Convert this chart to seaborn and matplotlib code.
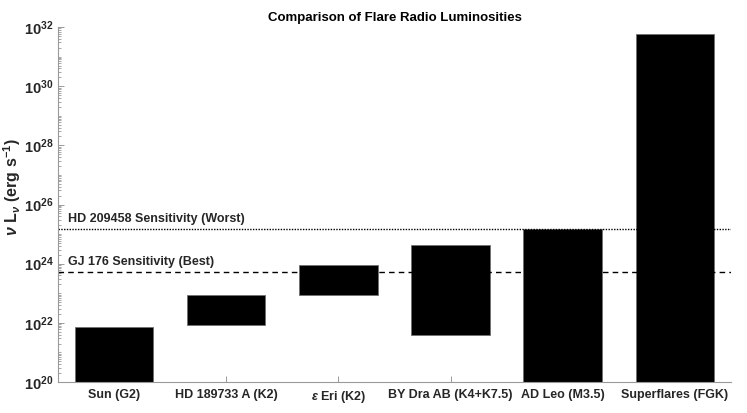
import numpy as np
import pandas as pd
import matplotlib
matplotlib.use("Agg")
import matplotlib.pyplot as plt
import matplotlib.ticker as mticker
import seaborn as sns

# données
stars = ["Sun (G2)", "HD 189733 A (K2)", r"$\epsilon$ Eri (K2)",
         "BY Dra AB (K4+K7.5)", "AD Leo (M3.5)", "Superflares (FGK)"]
lum_low = [1e20, 8.3e21, 9e22, 4e21, 1e20, 1e20]
lum_high = [7.4e21, 8.5e22, 9e23, 4.2e24, 1.5e25, 6e31]

sens_worst = 1.5e25
sens_best = 5.3e23
sens_labels = ["HD 209458 Sensitivity (Worst)", "GJ 176 Sensitivity (Best)"]

sns.set_style("white")
plt.rcParams["font.family"] = ["Liberation Sans", "DejaVu Sans"]
plt.rcParams["font.weight"] = "bold"
plt.rcParams["mathtext.fontset"] = "custom"
plt.rcParams["mathtext.rm"] = "Liberation Sans:bold"
plt.rcParams["mathtext.it"] = "Liberation Sans:italic:bold"
plt.rcParams["mathtext.bf"] = "Liberation Sans:bold"

df = pd.DataFrame({
    "star": stars,
    "height": np.array(lum_high) - np.array(lum_low),
    "low": lum_low,
})

txt = "#262626"
spine = "#999999"

fig = plt.figure(figsize=(7.47, 4.13), dpi=100)
ax = fig.add_axes([0.0776, 0.075, 0.9010, 0.8596])

sns.barplot(data=df, x="star", y="height", order=stars, bottom=df["low"].values,
            color="black", saturation=1, width=0.7, errorbar=None,
            edgecolor="#707070", linewidth=0.6, ax=ax)

ax.set_yscale("log")
ax.set_ylim(1e20, 1e32)
ax.set_xlim(-0.5, 5.5)

ax.axhline(sens_worst, color="black", linestyle=(0, (1, 1)), linewidth=1)
ax.axhline(sens_best, color="black", linestyle=(0, (4, 3)), linewidth=1)
ax.text(-0.41, sens_worst * 1.35, sens_labels[0], fontsize=9,
        fontweight="bold", color=txt, va="bottom")
ax.text(-0.41, sens_best * 1.35, sens_labels[1], fontsize=9,
        fontweight="bold", color=txt, va="bottom")

ax.yaxis.set_major_locator(mticker.FixedLocator([1e20, 1e22, 1e24, 1e26, 1e28, 1e30, 1e32]))
ax.yaxis.set_major_formatter(mticker.FuncFormatter(
    lambda v, p: r"$\mathbf{10^{%d}}$" % round(np.log10(v))))
ax.yaxis.set_minor_locator(mticker.LogLocator(base=10, subs=np.arange(1, 10), numticks=200))
ax.yaxis.set_minor_formatter(mticker.NullFormatter())

ax.tick_params(axis="both", which="both", direction="in", colors=spine,
               labelcolor=txt, left=True, bottom=True)
ax.tick_params(axis="y", which="major", length=4, width=0.7, labelsize=10.5, pad=3)
ax.tick_params(axis="y", which="minor", length=2.5, width=0.6)
ax.tick_params(axis="x", length=4, width=0.7, labelsize=9, pad=5)
for lbl in ax.get_xticklabels():
    lbl.set_fontweight("bold")

for s in ["top", "right"]:
    ax.spines[s].set_visible(False)
for s in ["left", "bottom"]:
    ax.spines[s].set_color(spine)
    ax.spines[s].set_linewidth(0.8)

ax.set_xlabel("")
ax.set_ylabel(r"$\nu$ L$_\nu$ (erg s$^{-1}$)", fontsize=11.5, fontweight="bold",
              color=txt)
ax.yaxis.set_label_coords(-0.052, 0.55)
ax.set_title("Comparison of Flare Radio Luminosities", fontsize=9.5,
             fontweight="bold", color="black", pad=4)

plt.savefig("out.png", dpi=100)
